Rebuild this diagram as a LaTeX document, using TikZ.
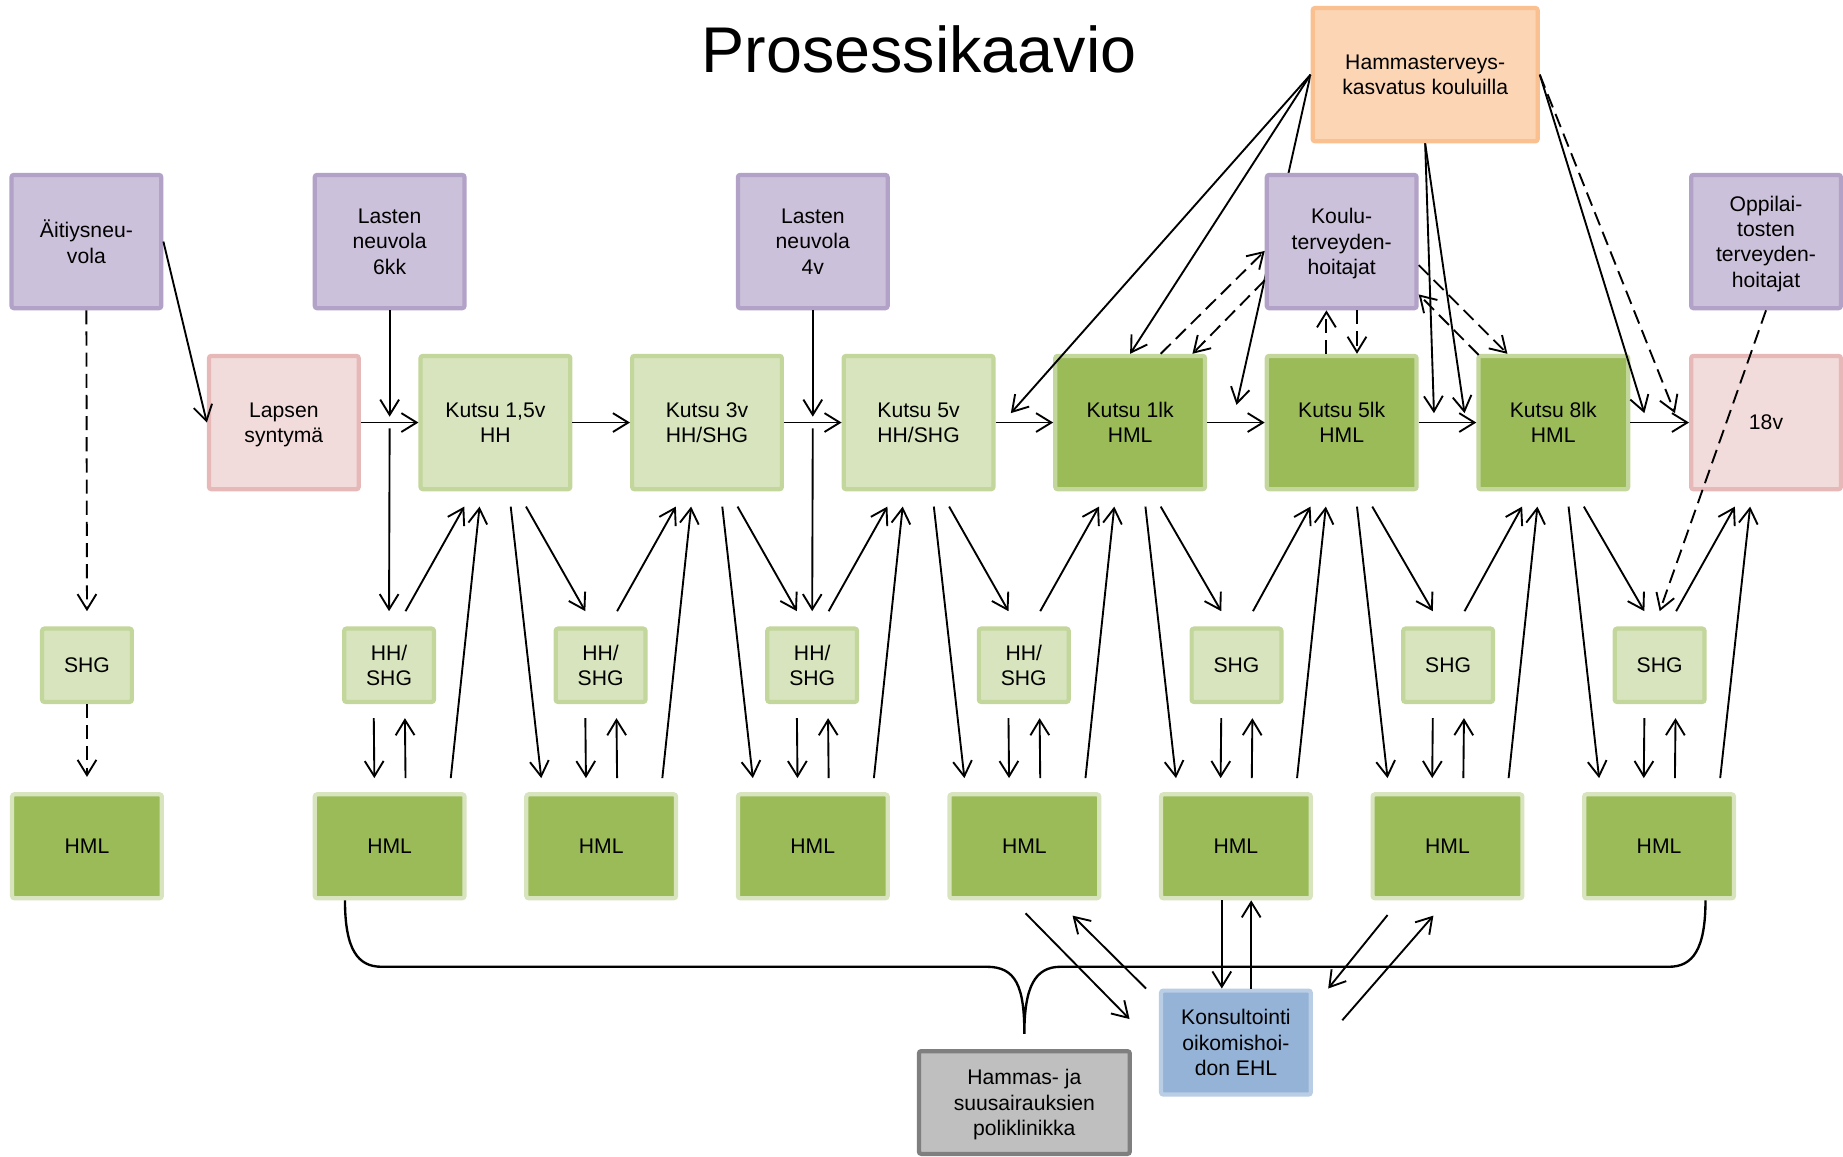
\documentclass[tikz,border=0pt]{standalone}
\usepackage{fontspec}
\setmainfont{Liberation Sans}
\usetikzlibrary{positioning}
\usetikzlibrary{arrows.meta}
\usetikzlibrary{calc}
\usetikzlibrary{backgrounds}

\definecolor{lilafill}{HTML}{CCC1DA}
\definecolor{lilaline}{HTML}{B3A2C7}
\definecolor{pinkfill}{HTML}{F2DCDB}
\definecolor{pinkline}{HTML}{E6B9B8}
\definecolor{orafill}{HTML}{FCD5B5}
\definecolor{oraline}{HTML}{FAC090}
\definecolor{vaaleafill}{HTML}{D7E4BD}
\definecolor{vaalealine}{HTML}{C3D69B}
\definecolor{tummafill}{HTML}{9BBB59}
\definecolor{hmlline}{HTML}{D7E4BD}
\definecolor{sinifill}{HTML}{95B3D7}
\definecolor{siniline}{HTML}{B9CDE5}
\definecolor{harmaafill}{HTML}{BFBFBF}
\definecolor{harmaaline}{HTML}{7F7F7F}

\tikzset{
  laatikko/.style={rectangle, draw, line width=1.8pt, rounded corners=1pt, align=center,
    inner sep=0pt, font=\fontsize{9}{10.75}\selectfont, text depth=-1pt},
  iso/.style={laatikko, minimum width=63.7pt, minimum height=56.7pt},
  neuvola/.style={iso, draw=lilaline, fill=lilafill},
  syntyma/.style={iso, draw=pinkline, fill=pinkfill},
  kutsu/.style={iso, draw=vaalealine, fill=vaaleafill},
  kutsuhml/.style={iso, draw=vaalealine, fill=tummafill},
  kasvatus/.style={laatikko, minimum width=95.7pt, minimum height=56.7pt, draw=oraline, fill=orafill},
  pieni/.style={laatikko, minimum width=38.2pt, minimum height=31.2pt, draw=vaalealine, fill=vaaleafill},
  hml/.style={laatikko, minimum width=63.7pt, minimum height=44.2pt, draw=hmlline, fill=tummafill},
  konsult/.style={laatikko, minimum width=63.7pt, minimum height=44.2pt, draw=siniline, fill=sinifill},
  poli/.style={laatikko, minimum width=89.7pt, minimum height=43.7pt, draw=harmaaline, fill=harmaafill},
  nuoli/.style={-{Straight Barb[length=6.5pt,width=8pt]}, line width=0.8pt},
  katko/.style={nuoli, dash pattern=on 6pt off 3pt},
  sulje/.style={line width=1pt},
}

\begin{document}
\begin{tikzpicture}[x=0.5pt,y=-0.5pt]
        \useasboundingbox (0,0) rectangle (1568,984);

        % Otsikko
        \node[font=\fontsize{27.5}{30}\selectfont, anchor=base] (otsikko) at (782,62) {Prosessikaavio};

        % Neuvolat ja koulut
        \node[neuvola] (ait) at (73.5,205.5) {Äitiysneu-\\vola};
        \node[neuvola] (las6) at (331.5,205.5) {Lasten\\neuvola\\6kk};
        \node[neuvola] (las4) at (691.5,205.5) {Lasten\\neuvola\\4v};
        \node[neuvola] (koulu) at (1141.5,205.5) {Koulu-\\terveyden-\\hoitajat};
        \node[neuvola] (oppi) at (1502.5,205.5) {Oppilai-\\tosten\\terveyden-\\hoitajat};
        \node[kasvatus] (hamkas) at (1212.5,63.5) {Hammasterveys-\\kasvatus kouluilla};

        % Kutsut
        \node[syntyma] (k0) at (241.5,359.5) {Lapsen\\syntymä};
        \node[kutsu] (k1) at (421.5,359.5) {Kutsu 1,5v\\HH};
        \node[kutsu] (k2) at (601.5,359.5) {Kutsu 3v\\HH/SHG};
        \node[kutsu] (k3) at (781.5,359.5) {Kutsu 5v\\HH/SHG};
        \node[kutsuhml] (k4) at (961.5,359.5) {Kutsu 1lk\\HML};
        \node[kutsuhml] (k5) at (1141.5,359.5) {Kutsu 5lk\\HML};
        \node[kutsuhml] (k6) at (1321.5,359.5) {Kutsu 8lk\\HML};
        \node[syntyma] (k7) at (1502.5,359.5) {18v};

        % Tarkastukset
        \foreach \i/\x in {2/331,3/511,4/691,5/871}
        \node[pieni] (s\i) at (\x,566) {HH/\\SHG};
        \foreach \i/\x in {1/74,6/1052,7/1232,8/1412}
        \node[pieni] (s\i) at (\x,566) {SHG};
        \foreach \i/\x in {1/74,2/331.5,3/511.5,4/691.5,5/871.5,6/1051.5,7/1231.5,8/1411.5}
        \node[hml] (h\i) at (\x,720) {HML};

        \node[konsult] (kon) at (1051.5,887) {Konsultointi\\oikomishoi-\\don EHL};
        \node[poli] (pol) at (871.5,938) {Hammas- ja\\suusairauksien\\poliklinikka};

        % Kutsusta toiseen
        \foreach \a/\b in {k0/k1,k1/k2,k2/k3,k3/k4,k4/k5,k5/k6,k6/k7}
        \draw[nuoli] (\a.east) -- (\b.west);

        % Tarkastuksista kutsuun
        \foreach \i [evaluate=\i as \j using int(\i+1)] in {1,...,7} {
          \draw[nuoli] ($(s\j.north)+(14,-13)$) -- ($(k\i.south)+(-26.5,13)$);
          \draw[nuoli] ($(h\j.north)+(52,-12)$) -- ($(k\i.south)+(-13.5,13)$);
        }
        \foreach \i [evaluate=\i as \j using int(\i+2)] in {1,...,6} {
          \draw[nuoli] ($(k\i.south)+(13,13)$) -- ($(h\j.north)+(-51,-12)$);
          \draw[nuoli] ($(k\i.south)+(26,13)$) -- ($(s\j.north)+(-13,-13)$);
        }
        \foreach \i in {2,...,8} {
          \draw[nuoli] ($(s\i.south)+(-13,12)$) -- ($(h\i.north)+(-13,-12)$);
          \draw[nuoli] ($(h\i.north)+(13.5,-12)$) -- ($(s\i.south)+(13.5,12)$);
        }

        % Neuvoloista
        \draw[nuoli] (ait.east) -- (k0.west);
        \draw[katko] (ait.south) -- ($(s1.north)+(0,-13)$);
        \draw[katko] (s1.south) -- ($(h1.north)+(0,-13)$);
        \draw[nuoli] (las6.south) -- ($(las6.south |- k0.east)+(0,-5)$);
        \draw[nuoli] ($(las6.south |- k0.east)+(0,5)$) -- ($(s2.north)+(0,-13)$);
        \draw[nuoli] (las4.south) -- ($(las4.south |- k2.east)+(0,-5)$);
        \draw[nuoli] ($(las4.south |- k2.east)+(0,5)$) -- ($(s4.north)+(0,-13)$);

        % Hammasterveyskasvatus ja kouluterveydenhoitajat
        \begin{scope}[on background layer]
          \draw[nuoli] (hamkas.west) -- ($(k5.west)+(-24,-15)$);
        \end{scope}
        \draw[nuoli] (hamkas.west) -- ($(k3.east)+(13,-8)$);
        \draw[nuoli] (hamkas.west) -- (k4.north);
        \draw[katko] ($(k4.north)+(26,0)$) -- ($(koulu.west)+(0,8)$);
        \draw[katko] ($(koulu.west)+(0,33)$) -- ($(k4.north)+(53,0)$);
        \draw[katko] ($(k5.north)+(-13,0)$) -- ($(koulu.south)+(-13,0)$);
        \draw[katko] ($(koulu.south)+(13,0)$) -- ($(k5.north)+(13,0)$);
        \draw[katko] ($(koulu.east)+(0,20)$) -- ($(k6.north)+(-39,0)$);
        \draw[katko] ($(k6.north west)+(2,1)$) -- ($(koulu.east)+(0,45)$);
        \draw[nuoli] (hamkas.south) -- ($(k5.east)+(13,-8)$);
        \draw[nuoli] (hamkas.south) -- ($(k6.west)+(-10,-8)$);
        \draw[nuoli] (hamkas.east) -- ($(k6.east)+(12,-8)$);
        \draw[katko] (hamkas.east) -- ($(k7.west)+(-12,-8)$);
        \draw[katko] (oppi.south) -- ($(s8.north)+(0,-13)$);

        % Konsultointi
        \draw[nuoli] ($(h5.south)+(1,11)$) -- ($(kon.west)+(-25,-20)$);
        \draw[nuoli] ($(kon.north west)+(-11,0)$) -- ($(h5.south)+(41,13)$);
        \draw[nuoli] ($(h6.south)+(-12,0)$) -- ($(kon.north)+(-12,0)$);
        \draw[nuoli] ($(kon.north)+(13,0)$) -- ($(h6.south)+(13,0)$);
        \draw[nuoli] ($(h7.south)+(-51,12.5)$) -- ($(kon.north east)+(13,0)$);
        \draw[nuoli] ($(kon.east)+(25,-19)$) -- ($(h7.south)+(-12,13)$);

        % Sulje poliklinikalle
        \coordinate (vasen) at ($(h2.south)+(-38,0)$);
        \coordinate (oikea) at ($(h8.south)+(39.5,0)$);
        \coordinate (karki) at ($(pol.north)+(0,-13)$);
        \coordinate (taso) at ($(karki)+(0,-57)$);
        \draw[sulje] (vasen) .. controls +(0,42) and +(-20,0) .. ($(vasen |- taso)+(31,0)$)
          -- ($(karki |- taso)+(-32,0)$) .. controls +(25,0) and +(0,-40) .. (karki)
          .. controls +(0,-40) and +(-22,0) .. ($(karki |- taso)+(31,0)$)
          -- ($(oikea |- taso)+(-31,0)$) .. controls +(20,0) and +(0,42) .. (oikea);
      \end{tikzpicture}
\end{document}
